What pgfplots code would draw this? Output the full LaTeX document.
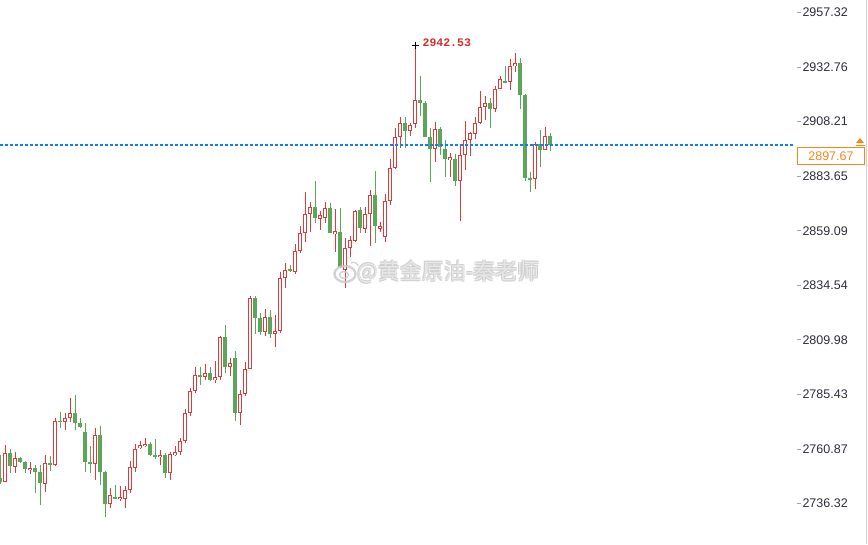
\documentclass[border=0pt]{standalone}
\usepackage{fontspec}
\setmainfont{Liberation Sans}
\newfontfamily\monofont{Liberation Mono}
\newfontfamily\cjk{Noto Sans CJK SC}
\usepackage{pgfplots}
\usepackage{pgfplotstable}
\pgfplotsset{compat=1.18}

\definecolor{upred}{RGB}{221,60,60}
\definecolor{dngreen}{RGB}{92,166,92}
\definecolor{priceblue}{RGB}{0,132,255}
\definecolor{lastorange}{RGB}{245,135,25}
\definecolor{ticktext}{RGB}{45,45,60}
\definecolor{hilabel}{RGB}{210,45,45}

% x = bar number, o h l c = open high low close
\pgfplotstableread{
x o h l c
1 2746.13 2762.65 2745.80 2758.92
3 2752.88 2759.64 2750.18 2756.67
6 2751.40 2754.87 2749.46 2752.16
9 2745.41 2758.15 2741.63 2754.42
11 2753.65 2774.67 2753.20 2773.45
13 2773.14 2776.92 2769.40 2774.67
14 2775.12 2783.67 2773.14 2776.92
19 2754.10 2770.44 2746.90 2767.15
22 2736.41 2743.43 2734.16 2740.15
24 2738.35 2744.20 2737.58 2738.93
25 2738.66 2744.20 2734.43 2742.40
26 2742.71 2755.45 2741.18 2752.61
27 2752.61 2763.10 2750.63 2760.85
28 2761.44 2764.32 2760.85 2762.34
29 2762.34 2765.67 2761.89 2763.10
32 2757.39 2760.40 2753.65 2758.15
34 2750.18 2759.37 2746.90 2758.60
35 2758.15 2762.20 2757.70 2759.37
36 2759.64 2765.67 2758.15 2764.45
37 2764.59 2778.86 2763.42 2776.92
38 2777.19 2788.17 2775.70 2786.96
39 2787.09 2797.76 2786.19 2794.16
41 2793.39 2799.11 2791.91 2794.92
43 2791.91 2800.46 2790.69 2793.12
44 2793.39 2811.71 2791.91 2811.13
46 2797.89 2801.81 2793.71 2799.43
48 2777.19 2787.41 2771.65 2785.47
49 2785.61 2799.88 2784.71 2796.72
50 2797.17 2829.72 2797.00 2828.68
53 2813.65 2823.73 2811.85 2820.13
55 2812.93 2821.16 2806.90 2813.96
56 2813.96 2840.65 2812.93 2837.68
57 2838.13 2844.57 2833.32 2841.42
59 2840.65 2853.12 2839.48 2849.97
60 2849.97 2861.22 2849.21 2857.94
61 2858.21 2876.39 2854.16 2866.63
62 2866.94 2871.89 2858.39 2869.64
64 2864.69 2868.11 2859.42 2866.17
65 2865.14 2872.16 2862.44 2869.19
67 2857.94 2868.74 2849.52 2858.66
69 2841.42 2855.69 2833.32 2851.19
70 2851.46 2856.72 2847.41 2854.61
71 2854.61 2868.43 2854.16 2867.66
73 2859.87 2869.78 2858.07 2866.63
74 2866.63 2877.43 2852.22 2875.18
76 2860.19 2863.16 2858.66 2860.91
77 2856.41 2875.63 2854.16 2872.16
78 2872.79 2891.25 2870.90 2887.19
79 2887.64 2905.20 2886.74 2901.15
80 2901.42 2910.15 2896.20 2907.45
82 2904.30 2907.58 2901.87 2906.46
83 2907.45 2942.53 2905.20 2917.94
87 2896.20 2908.17 2890.17 2904.75
90 2891.25 2893.95 2883.41 2891.97
92 2881.61 2897.10 2863.61 2893.18
93 2893.50 2908.48 2886.43 2899.93
94 2899.93 2903.67 2892.73 2902.95
95 2902.95 2910.28 2900.16 2907.45
96 2907.72 2921.99 2907.13 2914.65
97 2914.92 2919.74 2908.93 2916.45
99 2913.89 2924.24 2912.67 2922.75
100 2923.20 2928.74 2922.75 2927.25
102 2926.17 2936.17 2922.44 2933.24
103 2933.37 2938.96 2930.76 2934.46
107 2882.69 2899.17 2877.88 2898.00
109 2895.66 2905.65 2895.43 2901.73
}\upbars

\pgfplotstableread{
x o h l c
0 2747.80 2758.15 2745.10 2746.00
2 2758.92 2760.72 2750.18 2753.20
4 2756.67 2757.39 2754.42 2755.13
5 2754.87 2755.59 2750.18 2751.85
7 2752.16 2753.65 2740.91 2750.63
8 2750.63 2753.65 2735.65 2745.41
10 2754.69 2757.70 2751.08 2753.79
12 2773.45 2777.37 2770.17 2773.14
15 2776.92 2785.16 2769.40 2772.69
16 2772.69 2774.67 2770.17 2770.89
17 2768.64 2772.42 2750.63 2755.13
18 2755.13 2762.20 2750.18 2753.97
20 2767.15 2771.34 2744.65 2750.63
21 2750.36 2751.08 2730.11 2736.10
23 2739.38 2744.65 2738.21 2738.66
30 2763.10 2763.87 2757.84 2758.15
31 2758.15 2765.35 2756.35 2757.39
33 2758.15 2758.92 2747.93 2750.18
40 2794.16 2797.76 2789.66 2793.39
42 2794.92 2797.62 2791.59 2791.91
45 2811.13 2816.66 2795.19 2797.89
47 2801.68 2804.96 2773.59 2777.19
51 2828.68 2829.72 2812.61 2819.95
52 2819.95 2821.93 2812.16 2813.65
54 2820.13 2823.42 2810.68 2812.61
58 2841.73 2843.67 2840.65 2841.10
63 2869.64 2881.48 2862.71 2864.69
66 2869.19 2871.44 2857.94 2858.21
68 2858.66 2869.19 2842.18 2842.90
72 2868.43 2869.64 2858.07 2860.32
75 2875.18 2885.98 2853.44 2861.22
81 2907.45 2910.42 2896.20 2904.12
84 2917.94 2928.74 2910.73 2916.72
85 2916.72 2917.49 2901.20 2901.42
86 2901.42 2905.33 2881.16 2895.75
88 2904.75 2905.65 2893.18 2896.65
89 2896.02 2899.93 2883.28 2891.52
91 2891.38 2893.63 2879.09 2881.70
98 2916.45 2918.84 2905.47 2913.89
101 2926.49 2933.24 2925.45 2926.04
104 2934.46 2936.71 2913.89 2920.19
105 2920.19 2920.64 2881.48 2882.96
106 2882.96 2885.66 2876.66 2882.24
108 2898.00 2904.43 2887.91 2895.66
110 2901.73 2902.95 2895.12 2897.67
}\downbars

\pgfplotsset{
  candle/.style 2 args={draw=none, mark=none, forget plot,
    error bars/.cd, y dir=both, y explicit, error mark=none,
    error bar style={draw=#1, line width=#2}},
}

\begin{document}
\begin{tikzpicture}[x=1pt,y=1pt]
\begin{axis}[
  at={(0,0)}, anchor=south west,
  scale only axis, width=797pt, height=544pt,
  xmin=-0.06, xmax=159.3,
  ymin=2718.09, ymax=2962.95,
  hide x axis,
  axis y line*=right,
  y axis line style={draw=none},
  ytick={2736.32,2760.87,2785.43,2809.98,2834.54,2859.09,2883.65,2908.21,2932.76,2957.32},
  yticklabels={2736.32,2760.87,2785.43,2809.98,2834.54,2859.09,2883.65,2908.21,2932.76,2957.32},
  minor y tick num=4,
  tick align=outside,
  major tick length=4pt, minor tick length=1.5pt,
  major tick style={draw=black!35, line width=0.7pt},
  minor tick style={draw=black!22, line width=0.7pt},
  yticklabel style={font=\fontsize{12.5}{14}\selectfont, text=ticktext, anchor=west, xshift=-2pt},
]
% wicks
\addplot[candle={upred}{1pt}]
  table[x=x, y=h, y error plus expr=0, y error minus expr=\thisrow{h}-\thisrow{l}] {\upbars};
\addplot[candle={dngreen}{1pt}]
  table[x=x, y=h, y error plus expr=0, y error minus expr=\thisrow{h}-\thisrow{l}] {\downbars};
% up bodies: red outline, white inside
\addplot[candle={upred}{3.9pt}]
  table[x=x, y expr=(\thisrow{o}+\thisrow{c})/2,
        y error expr={max(0.35,abs(\thisrow{c}-\thisrow{o})/2+0.2)}] {\upbars};
\addplot[candle={white}{1.9pt}]
  table[x=x, y expr=(\thisrow{o}+\thisrow{c})/2,
        y error expr={max(0,abs(\thisrow{c}-\thisrow{o})/2-0.25)}] {\upbars};
% down bodies: filled green
\addplot[candle={dngreen}{3.9pt}]
  table[x=x, y expr=(\thisrow{o}+\thisrow{c})/2,
        y error expr={max(0.3,abs(\thisrow{c}-\thisrow{o})/2)}] {\downbars};
% last price line
\draw[priceblue, line width=1.1pt, dash pattern=on 3pt off 2pt]
  (axis cs:-0.06,2897.67) -- (axis cs:158.9,2897.67);
% highest bar marker
\addplot[only marks, mark=+, mark size=3.5pt, mark options={draw=black, line width=0.8pt},
  point meta=explicit symbolic, nodes near coords,
  nodes near coords style={anchor=base west, text=hilabel, xshift=3.5pt, yshift=-1pt,
    font=\monofont\bfseries\fontsize{11.5}{12}\selectfont}]
  coordinates {(83,2942.53) [2942.53]};
\coordinate (lastp) at (axis cs:159.3,2897.67);
\end{axis}
% last price box
\node[anchor=north west, draw=lastorange, line width=0.9pt, fill=white, text=lastorange,
  minimum width=67pt, minimum height=16.5pt, inner sep=0pt,
  font=\fontsize{12.5}{14}\selectfont] at ([yshift=-2pt]lastp) {2897.67};
\fill[lastorange] (860,406) -- (856,401) -- (864,401) -- cycle;
\draw[lastorange, line width=0.9pt] (855.5,399) -- (864.5,399);
% right border
\draw[black!18, line width=0.8pt] (866,0) -- (866,544);
% watermark
\begin{scope}[opacity=0.8]
  \draw[black!22, line width=2.4pt] (345,270) ellipse (10.5 and 8);
  \draw[black!22, line width=1.4pt] (344,269) ellipse (4.5 and 3.5);
  \draw[black!22, line width=1.3pt] (351,281) arc (120:20:5);
  \foreach \dx/\dy in {0.7/0.7,-0.7/0.7,0.7/-0.7,-0.7/-0.7}
    \node[anchor=west, text=black!20, font=\cjk\fontsize{22}{22}\selectfont, inner sep=0pt]
      at (357+\dx,272+\dy) {@黄金原油-秦老师};
  \node[anchor=west, text=black!7, font=\cjk\fontsize{22}{22}\selectfont, inner sep=0pt]
    at (357,272) {@黄金原油-秦老师};
\end{scope}
\pgfresetboundingbox
\path[use as bounding box] (0,0) rectangle (868,544);
\end{tikzpicture}
\end{document}
